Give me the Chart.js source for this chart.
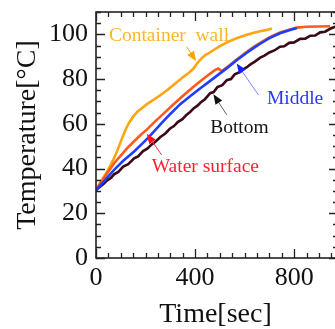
<!DOCTYPE html>
<html>
<head>
<meta charset="utf-8">
<script src="https://cdn.jsdelivr.net/npm/chart.js@4.4.1/dist/chart.umd.min.js"></script>
<style>
    html, body { margin: 0; padding: 0; background: #ffffff; }
    canvas { display: block; }
</style>
</head>
<body>
<canvas id="tempChart" width="335" height="329"></canvas>
<script>
// Temperature rise measured at four points (time in sec, temperature in degC)
const wallTime = [0, 20, 46, 70, 86, 105, 120, 133, 150, 167, 185, 207, 235, 261, 290, 320, 353, 375, 392, 405, 420, 440, 461, 475, 495, 528, 570, 609, 640, 663, 690, 710];
const wallTemp = [30.4, 34.4, 38.8, 44.0, 48.0, 53.5, 57.6, 60.4, 63.2, 65.4, 67.0, 68.9, 70.9, 72.9, 75.3, 78.0, 81.0, 82.8, 84.5, 86.5, 88.6, 90.6, 92.0, 93.0, 94.4, 96.4, 98.4, 99.8, 100.8, 101.4, 102.0, 102.6];

const surfaceTime = [0, 25, 50, 73, 100, 125, 154, 180, 205, 240, 275, 310, 340, 370, 400, 430, 460, 480, 494, 500, 508, 530, 568, 609, 640, 663, 700, 743, 780, 811, 850, 900, 945];
const surfaceTemp = [30.4, 34.6, 38.7, 42.4, 45.8, 49.0, 52.2, 55.0, 57.4, 61.2, 64.8, 68.4, 71.4, 74.3, 77.1, 79.8, 82.4, 84.0, 84.7, 84.2, 83.6, 85.4, 88.8, 92.2, 94.6, 96.2, 98.6, 100.9, 102.1, 103.0, 103.4, 103.5, 103.6];

const middleTime = [0, 30, 73, 110, 154, 190, 218, 260, 299, 340, 380, 420, 461, 494, 530, 568, 609, 640, 663, 700, 743, 780, 811];
const middleTemp = [30.4, 34.0, 39.4, 43.5, 47.6, 51.5, 54.6, 59.7, 64.3, 68.8, 72.3, 75.8, 79.2, 82.0, 85.0, 88.4, 91.8, 94.2, 95.8, 98.3, 100.5, 101.8, 102.8];

const bottomTime = [0, 15, 30, 45, 60, 73, 90, 110, 130, 154, 170, 190, 207, 225, 240, 260, 280, 299, 315, 330, 349, 365, 380, 395, 410, 425, 440, 461, 475, 490, 510, 528, 545, 560, 582, 595, 609, 625, 640, 663, 680, 700, 720, 743, 760, 780, 800, 824, 845, 865, 885, 905, 925, 945, 966];
const bottomTemp = [30.4, 31.8, 33.1, 34.7, 35.8, 37.4, 38.5, 40.9, 42.0, 44.6, 45.4, 47.8, 48.9, 50.8, 52.0, 54.1, 55.7, 57.9, 59.0, 60.8, 62.1, 64.0, 65.3, 67.0, 68.1, 69.8, 71.0, 73.7, 74.2, 76.4, 77.3, 79.5, 80.0, 82.1, 83.2, 84.4, 85.3, 86.7, 87.7, 89.6, 90.5, 91.9, 92.8, 94.5, 94.7, 96.2, 96.4, 98.0, 98.1, 99.4, 99.5, 100.9, 101.2, 102.5, 103.4];

// Axis ticks
const xTicks = [0, 400, 800];
const yTicks = [0, 20, 40, 60, 80, 100];
const xMinorStep = 50;
const yMinorStep = 5;

// Text labels with arrows, in data units
const labelNames = ["Container  wall", "Water surface", "Middle", "Bottom"];
const labelAt = [[52, 97], [225, 38.6], [690, 69], [461, 55.8]];
const arrowFrom = [[366, 94.5], [265, 46.1], [656, 72.9], [528, 64]];
const arrowTo = [[404, 88.0], [205, 55.6], [568, 87.0], [474, 73.2]];

const SERIF = "'Liberation Serif', 'Times New Roman', serif";

function toPoints(xs, ys) {
    return xs.map(function (x, i) { return { x: x, y: ys[i] }; });
}

function lineSet(label, xs, ys, color) {
    return {
        label: label,
        data: toPoints(xs, ys),
        showLine: true,
        borderColor: color,
        borderWidth: 2.6,
        pointRadius: 0,
        tension: 0,
        fill: false
    };
}

// keep the plot box fixed, no room reserved for half tick labels
function fixBox(scale, w, h) {
    if (w) scale.width = w;
    if (h) scale.height = h;
    scale.paddingTop = 0;
    scale.paddingBottom = 0;
    scale.paddingLeft = 0;
    scale.paddingRight = 0;
}

/**
 * Frame with inward tick marks on all four sides
 * (the right spine sits just past the canvas edge, as in the source)
 */
const framePlugin = {
    id: "frame",
    afterDatasetsDraw: function (chart) {
        const ctx = chart.ctx;
        const a = chart.chartArea;
        const xs = chart.scales.x;
        const ys = chart.scales.y;
        const right = a.right + 3;
        ctx.save();
        ctx.strokeStyle = "#222";
        ctx.lineWidth = 1.6;
        ctx.strokeRect(a.left, a.top, right - a.left, a.bottom - a.top);

        ctx.lineWidth = 1.3;
        ctx.beginPath();
        for (let v = 0; v <= xs.max; v += xMinorStep) {
            const px = Math.round(xs.getPixelForValue(v)) + 0.5;
            const len = v % 400 === 0 ? 9 : 5;
            ctx.moveTo(px, a.bottom);
            ctx.lineTo(px, a.bottom - len);
            ctx.moveTo(px, a.top);
            ctx.lineTo(px, a.top + len);
        }
        for (let v = 0; v <= ys.max; v += yMinorStep) {
            const py = Math.round(ys.getPixelForValue(v)) + 0.5;
            const len = v % 20 === 0 ? 9 : 5;
            ctx.moveTo(a.left, py);
            ctx.lineTo(a.left + len, py);
            ctx.moveTo(right, py);
            ctx.lineTo(right - len, py);
        }
        ctx.stroke();
        ctx.restore();
    }
};

/**
 * Series names written next to the curves, with arrows
 */
const labelPlugin = {
    id: "labels",
    afterDatasetsDraw: function (chart) {
        const ctx = chart.ctx;
        const xs = chart.scales.x;
        const ys = chart.scales.y;
        const textColors = ["#ffb52a", "#ff2030", "#2a36ff", "#141414"];
        const arrowColors = ["#ffa500", "#ff3040", "#7a86ff", "#606060"];
        const headColors = ["#ffa500", "#ff1020", "#1020ff", "#111111"];
        ctx.save();
        ctx.font = "19.5px " + SERIF;
        ctx.textBaseline = "alphabetic";
        ctx.textAlign = "left";
        labelNames.forEach(function (name, i) {
            ctx.fillStyle = textColors[i];
            ctx.fillText(name, xs.getPixelForValue(labelAt[i][0]), ys.getPixelForValue(labelAt[i][1]));

            const x0 = xs.getPixelForValue(arrowFrom[i][0]);
            const y0 = ys.getPixelForValue(arrowFrom[i][1]);
            const x1 = xs.getPixelForValue(arrowTo[i][0]);
            const y1 = ys.getPixelForValue(arrowTo[i][1]);
            const ang = Math.atan2(y1 - y0, x1 - x0);
            const headLen = 10;
            const headW = 4;
            const bx = x1 - headLen * Math.cos(ang);
            const by = y1 - headLen * Math.sin(ang);

            ctx.strokeStyle = arrowColors[i];
            ctx.lineWidth = 1;
            ctx.beginPath();
            ctx.moveTo(x0, y0);
            ctx.lineTo(bx, by);
            ctx.stroke();

            ctx.fillStyle = headColors[i];
            ctx.beginPath();
            ctx.moveTo(x1, y1);
            ctx.lineTo(bx + headW * Math.sin(ang), by - headW * Math.cos(ang));
            ctx.lineTo(bx - headW * Math.sin(ang), by + headW * Math.cos(ang));
            ctx.closePath();
            ctx.fill();
        });
        ctx.restore();
    }
};

document.addEventListener("DOMContentLoaded", function () {
    const ctx = document.getElementById("tempChart").getContext("2d");

    new Chart(ctx, {
        type: "scatter",
        data: {
            datasets: [
                // first dataset is painted last (on top)
                lineSet("Middle", middleTime, middleTemp, "#1f3dff"),
                lineSet("Water surface", surfaceTime, surfaceTemp, "#ff5a1a"),
                lineSet("Bottom", bottomTime, bottomTemp, "#3a0a16"),
                lineSet("Container wall", wallTime, wallTemp, "#ffa510")
            ]
        },
        options: {
            responsive: false,
            animation: false,
            devicePixelRatio: 1,
            layout: { padding: { top: 12, right: 0, left: 0, bottom: 0 } },
            plugins: {
                legend: { display: false },
                tooltip: { enabled: false }
            },
            scales: {
                x: {
                    type: "linear",
                    min: 0,
                    max: 965,
                    grid: { display: false, drawTicks: false },
                    border: { display: false },
                    afterBuildTicks: function (scale) {
                        scale.ticks = xTicks.map(function (v) { return { value: v }; });
                    },
                    afterFit: function (scale) { fixBox(scale, 0, 71); },
                    ticks: {
                        color: "#111",
                        padding: 5,
                        maxRotation: 0,
                        font: { family: SERIF, size: 26 }
                    },
                    title: {
                        display: true,
                        text: "Time[sec]",
                        color: "#111",
                        padding: { top: 0, bottom: 0 },
                        font: { family: SERIF, size: 28, lineHeight: 1 }
                    }
                },
                y: {
                    type: "linear",
                    min: 0,
                    max: 110,
                    grid: { display: false, drawTicks: false },
                    border: { display: false },
                    afterBuildTicks: function (scale) {
                        scale.ticks = yTicks.map(function (v) { return { value: v }; });
                    },
                    afterFit: function (scale) { fixBox(scale, 96, 0); },
                    ticks: {
                        color: "#111",
                        padding: 8,
                        font: { family: SERIF, size: 26 }
                    },
                    title: {
                        display: true,
                        text: "Temperature[°C]",
                        color: "#111",
                        padding: { top: 14, bottom: 0 },
                        font: { family: SERIF, size: 28, lineHeight: 1 }
                    }
                }
            }
        },
        plugins: [framePlugin, labelPlugin]
    });
});
</script>
</body>
</html>
